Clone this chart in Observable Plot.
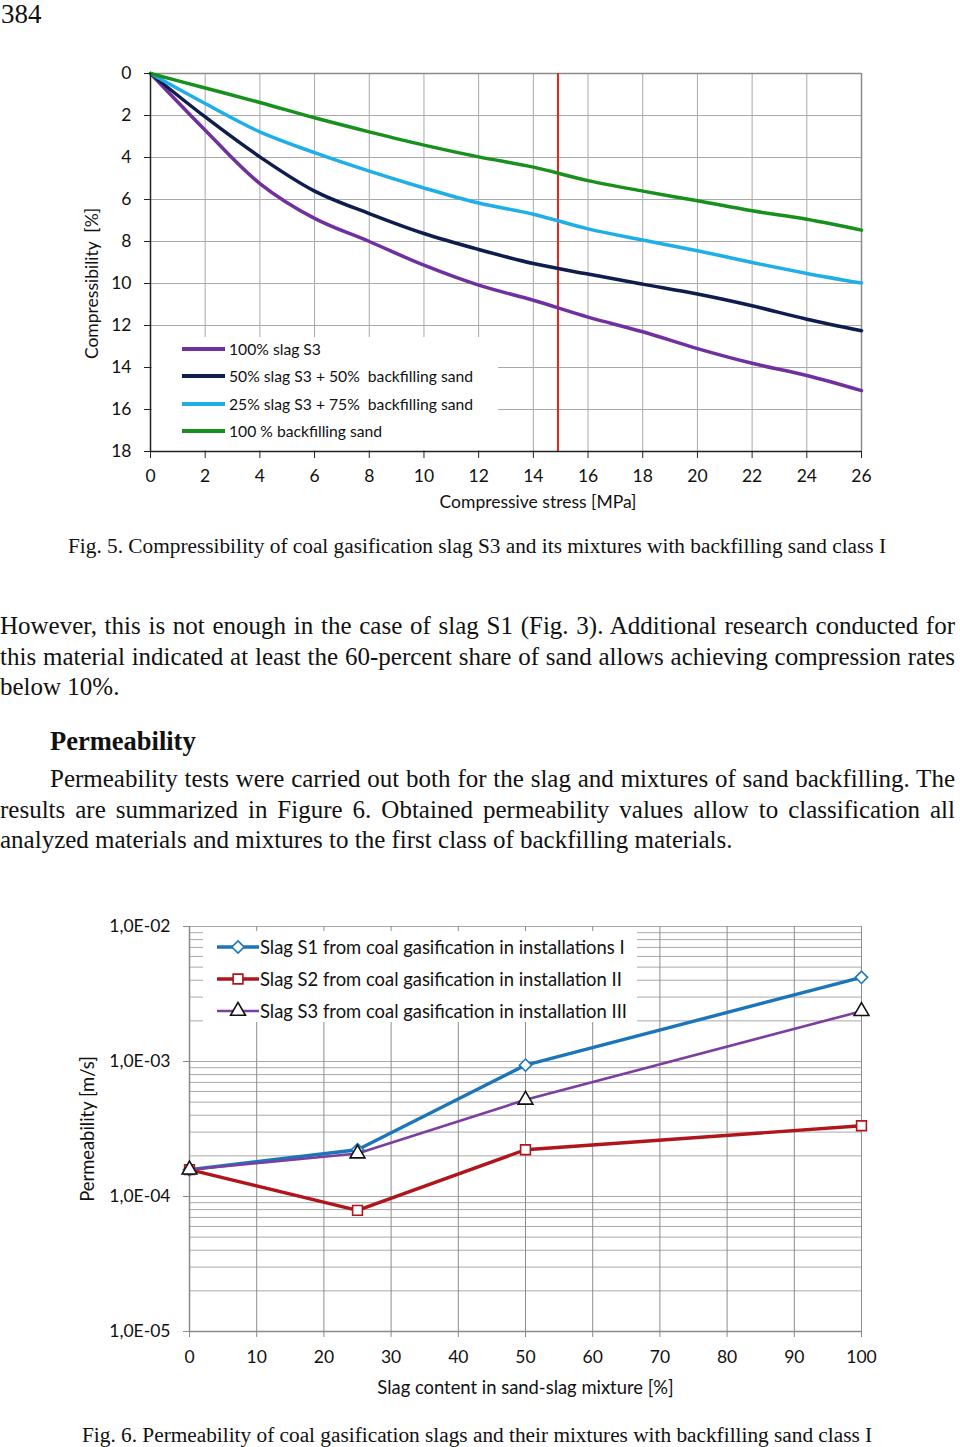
<!DOCTYPE html>
<html><head><meta charset="utf-8">
<script src="https://cdn.jsdelivr.net/npm/d3@7"></script>
<script src="https://cdn.jsdelivr.net/npm/@observablehq/plot@0.6"></script>
<style>
body{margin:0;background:#fff}
#page{position:relative;width:960px;height:1447px;overflow:hidden;background:#fff;font-family:"Liberation Serif","Times New Roman",serif;color:#111}
.abs{position:absolute;white-space:nowrap}
.jl{position:absolute;text-align:justify;text-align-last:justify;white-space:normal}
.body{font-size:25px;line-height:30px;height:30px}
.leg{position:absolute;background:#fff;font-family:Lato,sans-serif;color:#111}
.row{position:absolute;left:0;display:flex;align-items:center;white-space:nowrap}
svg{position:absolute}
</style></head><body><div id="page"></div>
<script>
// ---------- Fig. 5 data ----------
const stress = [0, 2, 4, 6, 8, 10, 12, 14, 16, 18, 20, 22, 24, 26];
const slag100 = [0, 2.7, 5.24, 6.9, 8.0, 9.13, 10.08, 10.8, 11.6, 12.3, 13.1, 13.8, 14.38, 15.1];
const slag50  = [0, 2.07, 3.97, 5.6, 6.67, 7.62, 8.38, 9.05, 9.55, 10.03, 10.5, 11.06, 11.7, 12.25];
const slag25  = [0, 1.43, 2.78, 3.77, 4.65, 5.45, 6.17, 6.7, 7.4, 7.93, 8.44, 9.0, 9.52, 9.98];
const sand100 = [0, 0.69, 1.38, 2.11, 2.78, 3.41, 3.97, 4.46, 5.1, 5.6, 6.06, 6.54, 6.94, 7.46];
const compNames = ["100% slag S3", "50% slag S3 + 50%\u00a0 backfilling sand", "25% slag S3 + 75%\u00a0 backfilling sand", "100 % backfilling sand"];
const compColors = ["#7030a0", "#0e1c4e", "#1eaee8", "#17901c"];
const stressLimit = [14.9];
const xTicks1 = [0, 2, 4, 6, 8, 10, 12, 14, 16, 18, 20, 22, 24, 26];
const yTicks1 = [0, 2, 4, 6, 8, 10, 12, 14, 16, 18];

// ---------- Fig. 6 data ----------
const slagContent = [0, 25, 50, 100];
const permS1 = [1.58e-4, 2.22e-4, 9.4e-4, 4.2e-3];
const permS2 = [1.58e-4, 7.9e-5, 2.22e-4, 3.34e-4];
const permS3 = [1.58e-4, 2.08e-4, 5.2e-4, 2.36e-3];
const permNames = ["Slag S1 from coal gasification in installations I", "Slag S2 from coal gasification in installation II", "Slag S3 from coal gasification in installation III"];
const permColors = ["#1b75bb", "#b0151b", "#7b3fa0"];
const permSymbols = ["diamond2", "square", "triangle"];
const xTicks2 = [0, 10, 20, 30, 40, 50, 60, 70, 80, 90, 100];
const yTicks2 = [1e-5, 1e-4, 1e-3, 1e-2];
const yTickLabels2 = ["1,0E-05", "1,0E-04", "1,0E-03", "1,0E-02"];

const page = document.getElementById("page");
function add(html){ page.insertAdjacentHTML("beforeend", html); }

// ---------- Chart 1 ----------
const series1 = [slag100, slag50, slag25, sand100];
const rows1 = series1.flatMap((vals, k) => stress.map((x, i) => ({series: compNames[k], x, y: vals[i]})));
const grid = "#a9a9a9";
const chart1 = Plot.plot({
  width: 960, height: 520,
  marginTop: 73, marginBottom: 69, marginLeft: 150, marginRight: 99,
  style: {fontFamily: "Lato, sans-serif", fontSize: "17.5px", color: "#111", background: "transparent"},
  x: {domain: [0, 26]},
  y: {domain: [0, 18], reverse: true},
  color: {domain: compNames, range: compColors},
  marks: [
    Plot.gridX(xTicks1, {stroke: grid, strokeOpacity: 1}),
    Plot.gridY(yTicks1, {stroke: grid, strokeOpacity: 1}),
    Plot.ruleY([0], {stroke: "#8a8a8a", strokeWidth: 1.5}),
    Plot.ruleX([26], {stroke: "#8a8a8a", strokeWidth: 1.5}),
    Plot.ruleX(stressLimit, {stroke: "#e3241b", strokeWidth: 2}),
    Plot.line(rows1, {x: "x", y: "y", z: "series", stroke: "series", strokeWidth: 3.5, curve: "catmull-rom"}),
    Plot.ruleX([0], {stroke: "#222", strokeWidth: 1.5}),
    Plot.ruleY([18], {stroke: "#222", strokeWidth: 1.5}),
    Plot.axisX(xTicks1, {tickSize: 7, tickPadding: 11, label: null, stroke: "#222"}),
    Plot.axisY(yTicks1, {tickSize: 6, tickPadding: 13, label: null, stroke: "#222"}),
    Plot.text(["Compressive stress [MPa]"], {frameAnchor: "bottom", textAnchor: "middle", lineAnchor: "middle", dx: 32, dy: 51}),
    Plot.text(["Compressibility  [%]"], {frameAnchor: "left", textAnchor: "middle", lineAnchor: "middle", dx: -58, dy: 21, rotate: -90})
  ]
});
chart1.style.left = "0px"; chart1.style.top = "0px";
page.appendChild(chart1);

// Legend 1 (inside plot)
{
  let rowsHtml = compNames.map((n, i) => {
    const top = [349, 376, 404, 431][i] - 337 - 11;
    return `<div class="row" style="top:${top}px;left:30px;height:22px;font-size:15.7px">
      <span style="display:inline-block;width:43px;height:4px;background:${compColors[i]};margin-right:4px"></span>${n}</div>`;
  }).join("");
  add(`<div class="leg" style="left:152px;top:337px;width:346px;height:113px">${rowsHtml}</div>`);
}

// ---------- Chart 2 ----------
const perm = [permS1, permS2, permS3];
const minorTicks = d3.scaleLog().domain([1e-5, 1e-2]).ticks();
const marks2 = [
  Plot.gridY(minorTicks, {stroke: grid, strokeOpacity: 1}),
  Plot.gridX(xTicks2, {stroke: "#8e8e8e", strokeOpacity: 1}),
  Plot.ruleX([0], {stroke: "#8a8a8a", strokeWidth: 1.5}),
  Plot.ruleY([1e-5], {stroke: "#8a8a8a", strokeWidth: 1.5}),
  Plot.axisX(xTicks2, {tickSize: 6, tickPadding: 13, label: null, stroke: "#8a8a8a", fill: "#111"}),
  Plot.axisY(yTicks2, {tickSize: 6, tickPadding: 13, label: null, stroke: "#8a8a8a", fill: "#111",
    tickFormat: d => yTickLabels2[yTicks2.indexOf(d)]}),
  Plot.text(["Slag content in sand-slag mixture [%]"], {frameAnchor: "bottom", textAnchor: "middle", lineAnchor: "middle", dy: 57, fontSize: 18.4}),
  Plot.text(["Permeability [m/s]"], {frameAnchor: "left", textAnchor: "middle", lineAnchor: "middle", dx: -101, rotate: -90, fontSize: 18.4})
];
perm.forEach((vals, k) => {
  const rows = slagContent.map((x, i) => ({x, y: vals[i]}));
  marks2.push(Plot.line(rows, {x: "x", y: "y", stroke: permColors[k], strokeWidth: k === 2 ? 2.6 : 3.4}));
});
perm.forEach((vals, k) => {
  const rows = slagContent.map((x, i) => ({x, y: vals[i]}));
  marks2.push(Plot.dot(rows, {x: "x", y: "y", symbol: () => permSymbols[k], r: 5.5, fill: "white",
    stroke: k === 2 ? "#111" : permColors[k], strokeWidth: 1.6}));
});
const chart2 = Plot.plot({
  width: 960, height: 530,
  marginTop: 46, marginBottom: 79, marginLeft: 189, marginRight: 99,
  style: {fontFamily: "Lato, sans-serif", fontSize: "17.5px", color: "#111", background: "transparent"},
  x: {domain: [0, 100]},
  y: {type: "log", domain: [1e-5, 1e-2]},
  symbol: {type: "identity"},
  marks: marks2
});
chart2.style.left = "0px"; chart2.style.top = "880px";
page.appendChild(chart2);

// Legend 2
{
  const symMap = {diamond2: d3.symbolDiamond2, square: d3.symbolSquare, triangle: d3.symbolTriangle};
  const size = Math.PI * 5.5 * 5.5;
  let rowsHtml = permNames.map((n, i) => {
    const top = [947, 979, 1011][i] - 931 - 11;
    const path = d3.symbol(symMap[permSymbols[i]], size)();
    return `<div class="row" style="top:${top}px;left:14px;height:22px;font-size:18.4px">
      <svg width="42" height="20" style="position:static;margin-right:1px"><line x1="0" x2="42" y1="10" y2="10" stroke="${permColors[i]}" stroke-width="${i===2?2.6:3.4}"/>
      <path d="${path}" transform="translate(21,10)" fill="white" stroke="${i===2?'#111':permColors[i]}" stroke-width="1.6"/></svg>${n}</div>`;
  }).join("");
  add(`<div class="leg" style="left:203px;top:931px;width:434px;height:91px">${rowsHtml}</div>`);
}

// ---------- Page text ----------
add(`<div class="abs" style="left:1px;top:1px;font-size:27px;line-height:24px;padding-top:1px">384</div>`);
add(`<div class="abs" style="left:68px;top:533px;font-size:21.3px;line-height:26px">Fig. 5. Compressibility of coal gasification slag S3 and its mixtures with backfilling sand class I</div>`);
add(`<div class="jl body" style="left:0;top:611px;width:955px">However, this is not enough in the case of slag S1 (Fig. 3). Additional research conducted for</div>`);
add(`<div class="jl body" style="left:0;top:642px;width:955px">this material indicated at least the 60-percent share of sand allows achieving compression rates</div>`);
add(`<div class="abs body" style="left:0;top:672px">below 10%.</div>`);
add(`<div class="abs body" style="left:50px;top:726px;font-weight:bold;font-size:26.5px">Permeability</div>`);
add(`<div class="jl body" style="left:50px;top:764px;width:905px">Permeability tests were carried out both for the slag and mixtures of sand backfilling. The</div>`);
add(`<div class="jl body" style="left:0;top:795px;width:955px">results are summarized in Figure 6. Obtained permeability values allow to classification all</div>`);
add(`<div class="abs body" style="left:0;top:825px">analyzed materials and mixtures to the first class of backfilling materials.</div>`);
add(`<div class="abs" style="left:82px;top:1422px;font-size:21.3px;line-height:26px">Fig. 6. Permeability of coal gasification slags and their mixtures with backfilling sand class I</div>`);
</script>
</body></html>
